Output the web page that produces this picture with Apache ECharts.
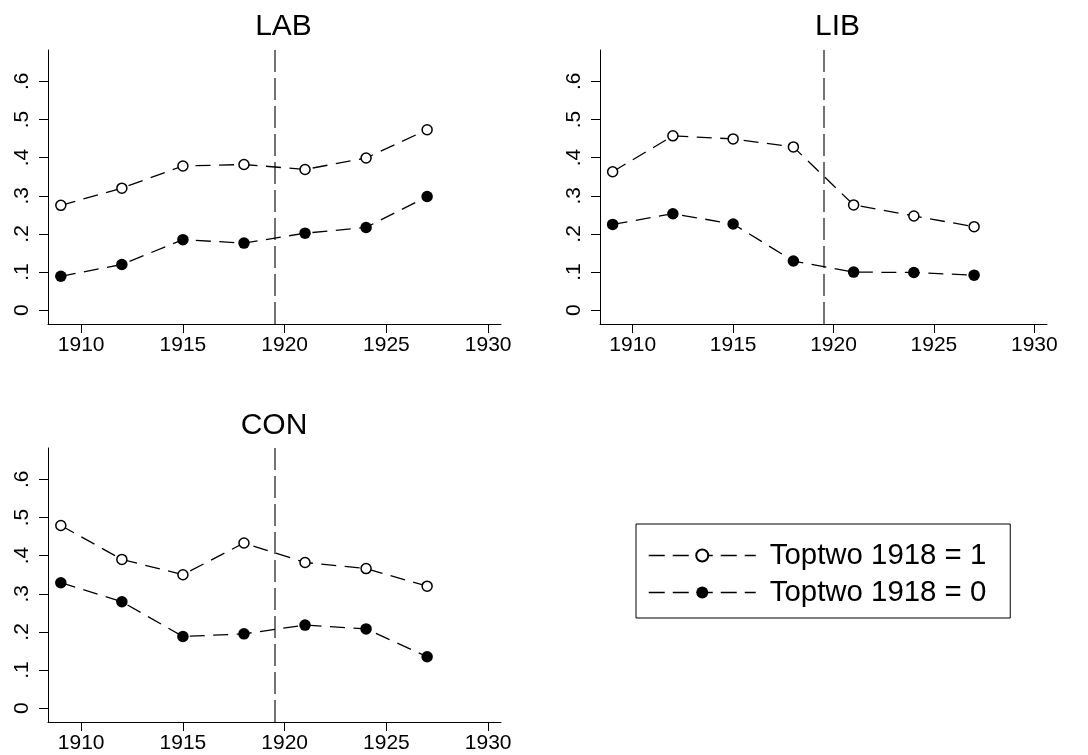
<!DOCTYPE html>
<html>
<head>
<meta charset="utf-8">
<script src="https://cdn.jsdelivr.net/npm/echarts@6/dist/echarts.min.js"></script>
<style>
html,body{margin:0;padding:0;background:#fff;}
#chart{width:1088px;height:755px;}
</style>
</head>
<body>
<div id="chart"></div>
<script>
const years = [1909, 1912, 1915, 1918, 1921, 1924, 1927];
const panelNames = ['LAB', 'LIB', 'CON'];
const labTop1 = [0.275, 0.320, 0.378, 0.382, 0.369, 0.399, 0.473];
const labTop0 = [0.089, 0.120, 0.185, 0.176, 0.202, 0.217, 0.298];
const libTop1 = [0.363, 0.457, 0.449, 0.428, 0.276, 0.247, 0.219];
const libTop0 = [0.225, 0.253, 0.226, 0.129, 0.100, 0.099, 0.092];
const conTop1 = [0.479, 0.390, 0.350, 0.433, 0.382, 0.366, 0.320];
const conTop0 = [0.329, 0.279, 0.188, 0.195, 0.218, 0.208, 0.135];
const xTicks = [1910, 1915, 1920, 1925, 1930];
const yTicks = [0, 0.1, 0.2, 0.3, 0.4, 0.5, 0.6];
const cutoffYear = 1919.5;
const seriesNames = ['Toptwo 1918 = 1', 'Toptwo 1918 = 0'];

const FONT = 'Liberation Sans, Arial, sans-serif';
const panelValues = [[labTop1, labTop0], [libTop1, libTop0], [conTop1, conTop0]];

const grids = [
  {left: 48, top: 50, width: 453, height: 274},
  {left: 600, top: 50, width: 447, height: 274},
  {left: 48, top: 448, width: 453, height: 274}
];
const titlePos = [
  {left: 278.5, top: 7},
  {left: 832.5, top: 7},
  {left: 269, top: 406}
];

const xAxes = grids.map((g, i) => ({
  type: 'value', gridIndex: i, min: 1908.37, max: 1930.63,
  axisLine: {onZero: false, lineStyle: {color: '#000', width: 1}},
  axisTick: {show: true, length: 9, customValues: xTicks, lineStyle: {color: '#000', width: 1}},
  axisLabel: {customValues: xTicks, fontSize: 21, fontFamily: FONT, color: '#000', margin: 11,
    formatter: v => String(Math.round(v))},
  splitLine: {show: false}
}));
const yAxes = grids.map((g, i) => ({
  type: 'value', gridIndex: i, min: -0.036, max: 0.682,
  axisLine: {show: true, onZero: false, lineStyle: {color: '#000', width: 1}},
  axisTick: {show: true, length: 9, customValues: yTicks, lineStyle: {color: '#000', width: 1}},
  axisLabel: {
    customValues: yTicks, rotate: 90, fontSize: 21, fontFamily: FONT, color: '#000', margin: 15,
    formatter: v => (Math.abs(v) < 1e-9 ? '0' : v.toFixed(1).replace(/^0/, ''))
  },
  splitLine: {show: false}
}));

const series = [];
panelValues.forEach((pair, p) => {
  pair.forEach((vals, k) => {
    const s = {
      type: 'line', name: seriesNames[k], xAxisIndex: p, yAxisIndex: p,
      data: years.map((y, i) => [y, vals[i]]),
      symbol: 'circle',
      symbolSize: k === 0 ? 10 : 11.5,
      itemStyle: k === 0 ? {color: '#fff', borderColor: '#000', borderWidth: 1.5} : {color: '#000', borderColor: '#000', borderWidth: 0},
      lineStyle: {color: '#000', width: 1.3, type: [15, 8.5]},
      emphasis: {disabled: true},
      z: 3
    };
    if (k === 0) {
      s.markLine = {
        silent: true, symbol: 'none', label: {show: false},
        lineStyle: {color: '#444', width: 1.5, type: [22, 6]},
        data: [{xAxis: cutoffYear}],
        z: 2
      };
    }
    series.push(s);
  });
});

const option = {
  animation: false,
  backgroundColor: '#fff',
  title: panelNames.map((n, i) => ({
    text: n, left: titlePos[i].left, top: titlePos[i].top, textAlign: 'center',
    textStyle: {fontSize: 30, fontWeight: 'normal', color: '#000', fontFamily: FONT}
  })),
  grid: grids,
  xAxis: xAxes,
  yAxis: yAxes,
  legend: {
    data: seriesNames, orient: 'vertical', left: 636, top: 524,
    itemWidth: 107, itemHeight: 15, itemGap: 8,
    padding: [17, 24, 11, 12],
    borderColor: '#000', borderWidth: 1,
    selectedMode: false,
    lineStyle: {type: [16, 8], width: 1.5},
    textStyle: {fontSize: 29.4, color: '#000', fontFamily: FONT, padding: [0, 0, 0, 9]}
  },
  series: series
};

const chart = echarts.init(document.getElementById('chart'), null, {renderer: 'canvas'});
chart.setOption(option);
</script>
</body>
</html>
